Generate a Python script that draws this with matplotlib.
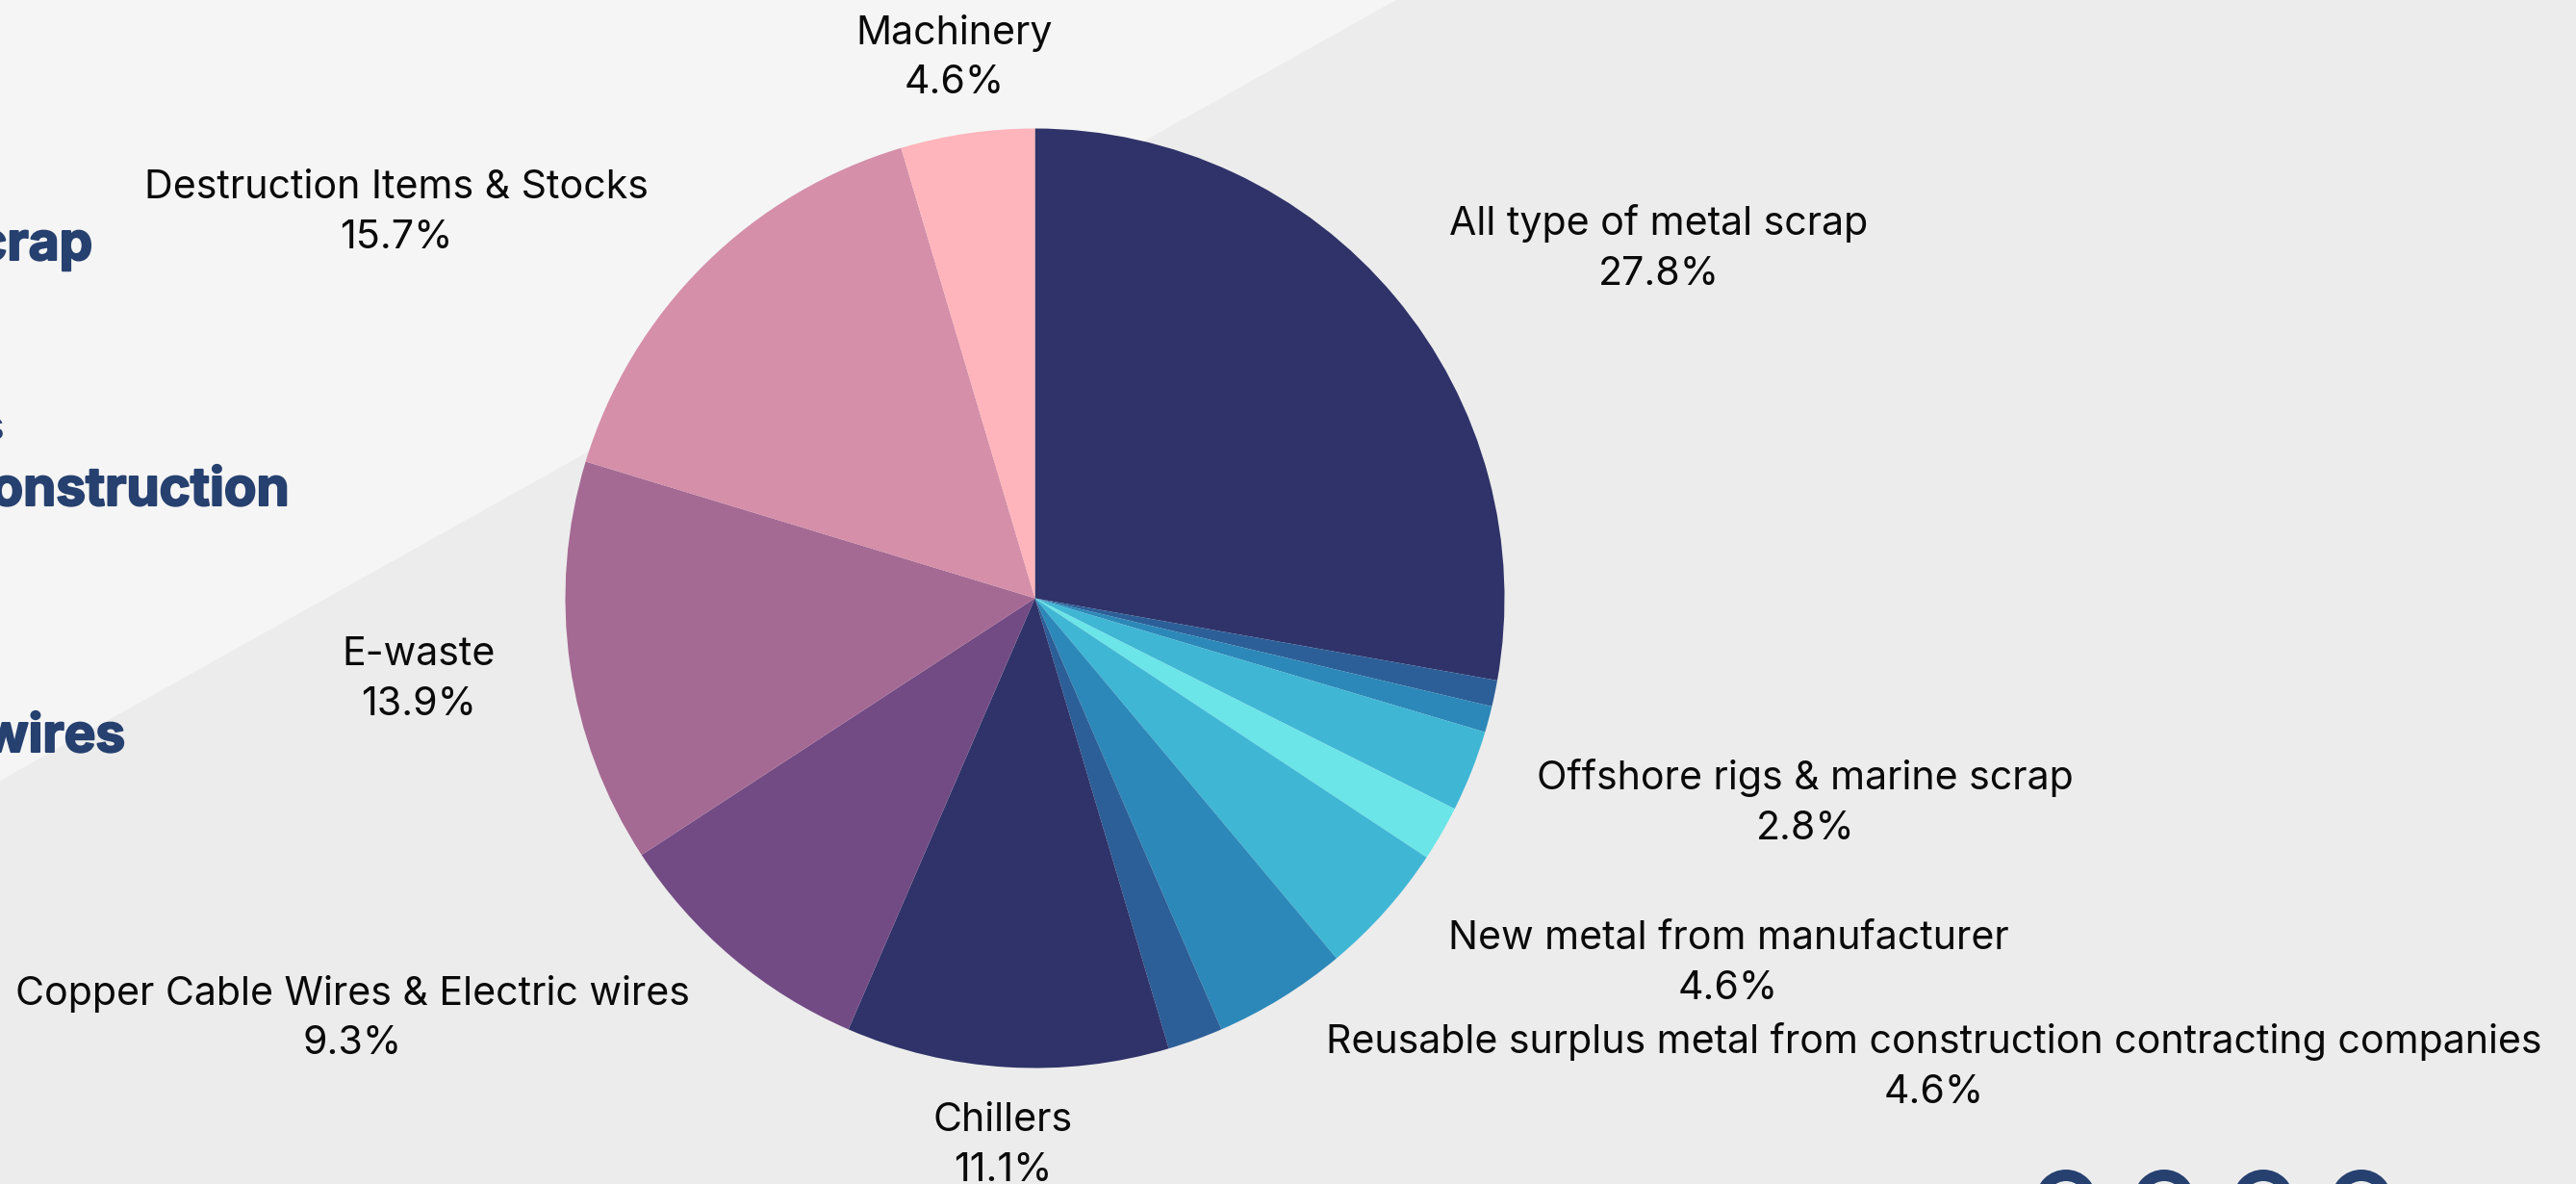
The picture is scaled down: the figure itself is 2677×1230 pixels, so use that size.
import matplotlib.patheffects as pe
import matplotlib.pyplot as plt
from matplotlib.patches import Circle, Polygon

W, H = 2677, 1230

# slices clockwise from 12 o'clock, the unnamed ones have no label in the picture
noms = [
    "All type of metal scrap", "", "", "Offshore rigs & marine scrap", "",
    "New metal from manufacturer",
    "Reusable surplus metal from construction contracting companies", "",
    "Chillers", "Copper Cable Wires & Electric wires", "E-waste",
    "Destruction Items & Stocks", "Machinery",
]
valeurs = [27.8, 0.9, 0.9, 2.8, 1.9, 4.6, 4.6, 1.9, 11.1, 9.3, 13.9, 15.7, 4.6]
couleurs = [
    "#2f3369", "#2c5f98", "#2c88b8", "#40b6d5", "#6be5e8", "#40b6d5", "#2c88b8",
    "#2c5f98", "#2f3369", "#724b84", "#a56a94", "#d58fa9", "#ffb5bb",
]

# centre of each label, in pixels from the top left
pos_labels = {
    "All type of metal scrap": (1724, 255),
    "Offshore rigs & marine scrap": (1876, 831),
    "New metal from manufacturer": (1796, 998),
    "Reusable surplus metal from construction contracting companies": (2010, 1105),
    "Chillers": (1042, 1187),
    "Copper Cable Wires & Electric wires": (366, 1055),
    "E-waste": (435, 703),
    "Destruction Items & Stocks": (412, 218),
    "Machinery": (992, 57),
}

# left part of the page, cut by the crop
textes_coupes = [("crap", 96, 256), ("onstruction", 300, 511), ("wires", 130, 767)]
icones_x = [2147, 2249, 2352, 2454]

fig = plt.figure(figsize=(W / 100, H / 100), dpi=100)
ax = fig.add_axes([0, 0, 1, 1])

ax.pie(
    valeurs,
    colors=couleurs,
    center=(1075.5, H - 621.5),
    radius=488,
    startangle=90,
    counterclock=False,
    frame=True,
    wedgeprops={"linewidth": 0, "zorder": 3},
)
ax.set_xlim(0, W)
ax.set_ylim(0, H)
ax.axis("off")

# background, two greys split by a diagonal
fig.patch.set_facecolor("#ececec")
ax.add_patch(Polygon([(0, H), (1451, H), (0, H - 811)], facecolor="#f5f5f5", edgecolor="none", zorder=0))

for nom, val in zip(noms, valeurs):
    if not nom:
        continue
    x, y = pos_labels[nom]
    ax.text(
        x, H - y - 3, f"{nom}\n{val}%",
        ha="center", va="center", ma="center",
        family="Inter", fontsize=29.6, color="#0a0a0a", linespacing=1.44, zorder=4,
    )

# the original headings are heavier than Inter bold, a thin stroke makes up for it
for texte, x, y in textes_coupes:
    t = ax.text(x, H - y, texte, ha="right", va="center", family="Inter", fontweight="bold", fontsize=39.5, color="#26406f", zorder=2)
    t.set_path_effects([pe.withStroke(linewidth=1.5, foreground="#26406f")])
ax.text(5, H - 446, "s", ha="right", va="center", family="Inter", fontsize=30, color="#26406f", zorder=2)

for x in icones_x:
    ax.add_patch(Circle((x, H - 1247), 26, facecolor="none", edgecolor="#26406f", linewidth=8.6, zorder=2))

fig.savefig("out.png", dpi=100, facecolor=fig.get_facecolor())
